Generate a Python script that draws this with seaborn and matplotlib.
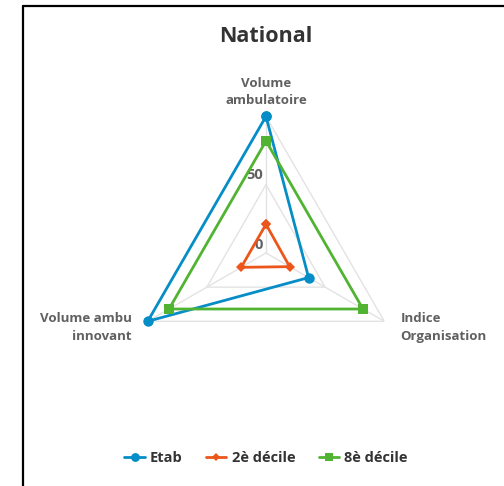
import numpy as np
import matplotlib
matplotlib.use("Agg")
import matplotlib.pyplot as plt
from matplotlib.lines import Line2D
import seaborn as sns

# ---- data ----
categories = ["Volume\nambulatoire", "Indice\nOrganisation", "Volume ambu\ninnovant"]
etab = [100, 36, 100]
decile2 = [21, 20, 21]
decile8 = [82, 82, 82]
series_names = ["Etab", "2è décile", "8è décile"]
radial_ticks = [0, 50]
radial_tick_labels = ["0", "50"]
grid_levels = [50, 100]

colors = ["#058DC7", "#ED561B", "#50B432"]
markers = ["o", "D", "s"]
msizes = [7.5, 5.0, 7.0]

sns.set_theme(style="white")
plt.rcParams["font.family"] = ["Open Sans", "DejaVu Sans"]

W, H = 504, 486
fig = plt.figure(figsize=(W / 100, H / 100), dpi=100)

cx, cy, R = 266, 253, 136.6
ax = fig.add_axes([(cx - R) / W, (H - cy - R) / H, 2 * R / W, 2 * R / H],
                  projection="polar")
ax.set_theta_zero_location("N")
ax.set_theta_direction(-1)
ax.set_ylim(0, 100)
ax.patch.set_alpha(0)
ax.spines["polar"].set_visible(False)

n = len(categories)
theta = np.arange(n) * 2 * np.pi / n
theta_c = np.append(theta, 2 * np.pi)

# grid
ax.set_xticks(theta)
ax.set_xticklabels([])
ax.set_yticks(radial_ticks)
ax.set_yticklabels([])
ax.yaxis.grid(False)
ax.xaxis.grid(True, color="#e3e3e3", linewidth=1.0)
ax.tick_params(length=0)
for lv in grid_levels:
    ax.plot(theta_c, [lv] * (n + 1), color="#e3e3e3", linewidth=1.0, zorder=1)

# series
for vals, name, c, m, ms in zip([etab, decile2, decile8], series_names, colors, markers, msizes):
    sns.lineplot(x=theta_c, y=list(vals) + [vals[0]], ax=ax, sort=False, estimator=None,
                 color=c, linewidth=2.0, marker=m, markersize=ms, markeredgewidth=0,
                 label=name, legend=False, clip_on=False, zorder=3)

# axis labels
label_color = "#606060"
offsets = [((0, 9), "center", "bottom"), ((16, 9), "left", "top"), ((-16, 9), "right", "top")]
for t, lab, (off, ha, va) in zip(theta, categories, offsets):
    ax.annotate(lab, xy=(t, 100), xytext=off, textcoords="offset pixels",
                ha=ha, va=va, fontsize=9.5, fontweight="bold", color=label_color,
                linespacing=1.45, annotation_clip=False)

# radial labels
for rv, rl, dy in zip(radial_ticks, radial_tick_labels, [8, 10]):
    ax.annotate(rl, xy=(0, rv), xytext=(-3, dy), textcoords="offset pixels",
                ha="right", va="center", fontsize=10.5, fontweight="bold", color=label_color,
                annotation_clip=False, zorder=2)

# title
fig.text(cx / W, 1 - 37 / H, "National", ha="center", va="center",
         fontsize=15.5, fontweight="bold", color="#333333")

# legend
handles = [Line2D([], [], color=c, marker=m, markersize=ms * 0.85, markeredgewidth=0, linewidth=2.0)
           for c, m, ms in zip(colors, markers, msizes)]
leg = fig.legend(handles, series_names, loc="center", bbox_to_anchor=(cx / W, 1 - 458 / H),
                 ncol=3, frameon=False, handlelength=1.4, handletextpad=0.35,
                 columnspacing=1.6, prop={"weight": "bold", "size": 10.5})
for t in leg.get_texts():
    t.set_color("#333333")

# container border (left and top)
fig.add_artist(Line2D([22.5 / W, 22.5 / W], [0, 1 - 6 / H], transform=fig.transFigure,
                      color="black", linewidth=1.6))
fig.add_artist(Line2D([22.5 / W, 1], [1 - 6 / H, 1 - 6 / H], transform=fig.transFigure,
                      color="black", linewidth=1.6))

fig.savefig("out.png", dpi=100)
